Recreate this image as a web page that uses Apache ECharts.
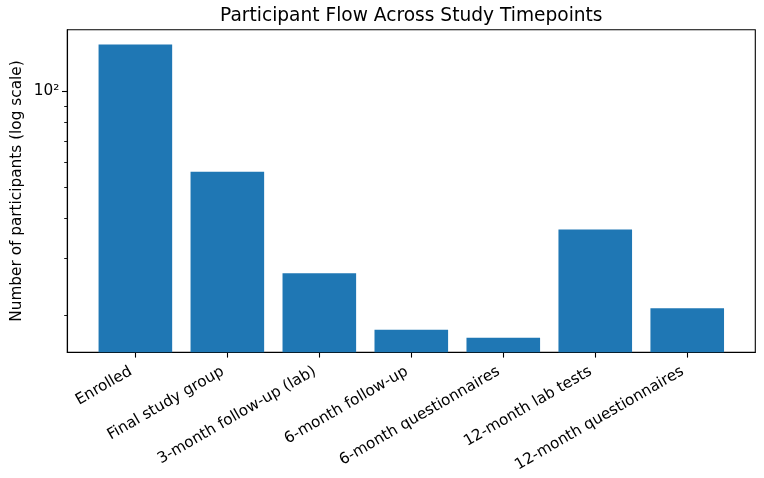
<!DOCTYPE html>
<html>
<head>
<meta charset="utf-8">
<script src="https://cdn.jsdelivr.net/npm/echarts@6/dist/echarts.min.js"></script>
<style>
html,body{margin:0;padding:0;background:#fff;}
#chart{width:764px;height:478px;}
</style>
</head>
<body>
<div id="chart"></div>
<script>
const categories = ['Enrolled', 'Final study group', '3-month follow-up (lab)', '6-month follow-up', '6-month questionnaires', '12-month lab tests', '12-month questionnaires'];
const participants = [140, 56, 27, 18, 17, 37, 21];
const majorTicks = [100];
const minorTicks = [20, 30, 40, 50, 60, 70, 80, 90];
const yMin = 15.3, yMax = 155.6;
const xMin = -0.74, xMax = 6.74;

const font = 'DejaVu Sans';
const chart = echarts.init(document.getElementById('chart'));
const barData = participants.map((v, i) => [i, v]);
const catIdx = categories.map((c, i) => i);

chart.setOption({
  animation: false,
  backgroundColor: '#fff',
  title: {
    text: 'Participant Flow Across Study Timepoints',
    left: 411.3, textAlign: 'center', top: 7, padding: 0,
    textStyle: {fontFamily: font, fontSize: 18.6, fontWeight: 'normal', color: '#000'}
  },
  grid: {left: 67.3, top: 29.7, width: 688, height: 322.6, show: true, borderColor: '#000', borderWidth: 1.1, containLabel: false, outerBoundsMode: 'none'},
  xAxis: {
    type: 'value', min: xMin, max: xMax,
    splitLine: {show: false},
    axisLine: {show: true, onZero: false, lineStyle: {color: '#000', width: 1.1}},
    axisTick: {show: true, length: 5.3, customValues: catIdx, lineStyle: {color: '#000', width: 1.1}},
    axisLabel: {
      customValues: catIdx, rotate: 30, margin: 15.5, padding: [0, 5.2, 0, 0],
      fontFamily: font, fontSize: 15.3, color: '#000',
      formatter: v => categories[Math.round(v)] || ''
    }
  },
  yAxis: [{
    type: 'log', min: yMin, max: yMax,
    splitLine: {show: false},
    name: 'Number of participants (log scale)', nameLocation: 'middle', nameGap: 43, nameMoveOverlap: false,
    nameTextStyle: {fontFamily: font, fontSize: 15.3, color: '#000'},
    axisLine: {show: true, onZero: false, lineStyle: {color: '#000', width: 1.1}},
    axisTick: {show: true, length: 5.3, customValues: majorTicks, lineStyle: {color: '#000', width: 1.1}},
    axisLabel: {
      customValues: majorTicks, margin: 8,
      fontFamily: font, fontSize: 15.3, color: '#000',
      formatter: v => Math.abs(v - 100) < 1e-6 ? '10²' : ''
    }
  }, {
    type: 'log', min: yMin, max: yMax, position: 'left',
    splitLine: {show: false},
    axisLine: {show: false, onZero: false},
    axisTick: {show: true, length: 3.1, customValues: minorTicks, lineStyle: {color: '#000', width: 0.9}},
    axisLabel: {show: false}
  }],
  series: [{
    type: 'bar', data: barData, barWidth: 73.6,
    itemStyle: {color: '#1f77b4'},
    yAxisIndex: 0
  }]
});
</script>
</body>
</html>
